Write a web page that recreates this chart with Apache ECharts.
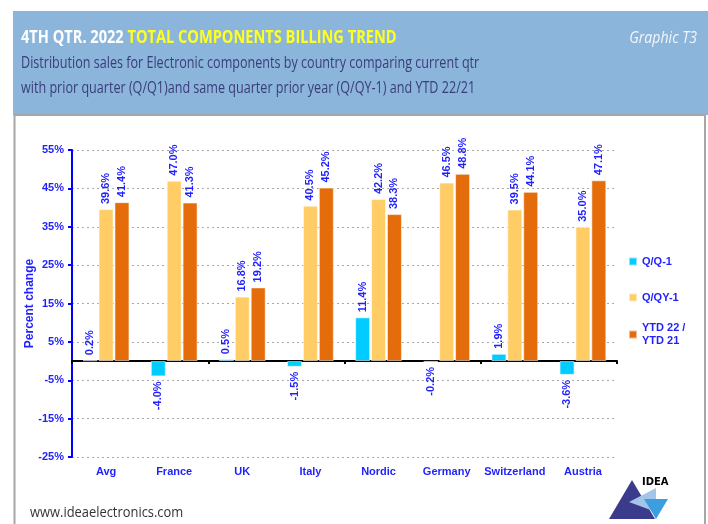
<!DOCTYPE html>
<html>
<head>
<meta charset="utf-8">
<script src="https://cdn.jsdelivr.net/npm/echarts@6/dist/echarts.min.js"></script>
<style>
  html, body { margin: 0; padding: 0; background: #ffffff; }
  #chart { width: 708px; height: 524px; }
</style>
</head>
<body>
<div id="chart"></div>
<script>
// Countries / regions along the category axis
const categories = ['Avg', 'France', 'UK', 'Italy', 'Nordic', 'Germany', 'Switzerland', 'Austria'];

// Percent change per series
const qq1   = [0.2, -4.0, 0.5, -1.5, 11.4, -0.2, 1.9, -3.6];
const qqy1  = [39.6, 47.0, 16.8, 40.5, 42.2, 46.5, 39.5, 35.0];
const ytd   = [41.4, 41.3, 19.2, 45.2, 38.3, 48.8, 44.1, 47.1];

const seriesNames = ['Q/Q-1', 'Q/QY-1', 'YTD 22 /\nYTD 21'];
const seriesColors = ['#00ccff', '#ffcc66', '#e46c0a'];

// Value axis range and step
const yMin = -25, yMax = 55, yStep = 10;

const BLUE = '#1f1fff';
const ARIAL = 'Arial, Liberation Sans, sans-serif';
const HEAD = "'Open Sans', 'Noto Sans', sans-serif";

const chart = echarts.init(document.getElementById('chart'), null, { renderer: 'canvas' });

function barData(values) {
  return values.map(v => ({
    value: v,
    label: v >= 0
      ? { position: 'top', align: 'left', distance: 5 }
      : { position: 'bottom', align: 'right', distance: 5 }
  }));
}

function makeSeries(i, values) {
  return {
    name: seriesNames[i],
    type: 'bar',
    barWidth: 15,
    barGap: '6%',
    itemStyle: { color: seriesColors[i], borderColor: 'rgba(255,255,255,0.55)', borderWidth: 1 },
    label: {
      show: true,
      rotate: 90,
      verticalAlign: 'middle',
      color: BLUE,
      fontFamily: ARIAL,
      fontWeight: 'bold',
      fontSize: 11,
      formatter: p => p.value.toFixed(1) + '%'
    },
    data: barData(values)
  };
}

function legendFor(i, top, padTop) {
  return {
    orient: 'vertical',
    left: 628,
    top: top,
    padding: 0,
    icon: 'rect',
    itemWidth: 8,
    itemHeight: 8,
    selectedMode: false,
    data: [seriesNames[i]],
    textStyle: {
      color: BLUE, fontFamily: ARIAL, fontWeight: 'bold', fontSize: 11, lineHeight: 13,
      padding: [padTop || 0, 0, 0, 0]
    }
  };
}

// condensed header text: regular face squeezed horizontally
function narrowText(x, y, text, style, sx) {
  return {
    type: 'text', x: x, y: y, scaleX: sx, originX: 0, originY: 0,
    style: Object.assign({ text: text, x: 0, y: 0, align: 'left', verticalAlign: 'middle' }, style)
  };
}

const option = {
  animation: false,
  backgroundColor: '#ffffff',
  graphic: [
    // header band
    { type: 'rect', shape: { x: 13, y: 11, width: 700, height: 104 }, style: { fill: '#8cb5db' }, z: -10 },
    // panel frame
    { type: 'rect', shape: { x: 14.5, y: 115, width: 690.5, height: 430 },
      style: { fill: 'none', stroke: '#a6a6a6', lineWidth: 2 }, z: -9 },
    narrowText(21, 38, '{a|4TH QTR. 2022 }{b|TOTAL COMPONENTS BILLING TREND}', {
      rich: {
        a: { fill: '#ffffff', font: 'bold 18px ' + HEAD },
        b: { fill: '#ffff22', font: 'bold 18px ' + HEAD }
      }
    }, 0.81),
    narrowText(21, 63, 'Distribution sales for Electronic components by country comparing current qtr',
      { fill: '#393d7a', font: '17px ' + HEAD }, 0.74),
    narrowText(21, 88, 'with prior quarter (Q/Q1)and same quarter prior year (Q/QY-1) and YTD 22/21',
      { fill: '#393d7a', font: '17px ' + HEAD }, 0.74),
    {
      type: 'text', x: 697, y: 38, scaleX: 0.83,
      style: { text: 'Graphic T3', x: 0, y: 0, align: 'right', verticalAlign: 'middle',
        fill: '#f2f6fa', font: 'italic 17px ' + HEAD }
    },
    narrowText(30, 513, 'www.ideaelectronics.com', { fill: '#333333', font: '15px ' + HEAD }, 0.86),
    // IDEA logo
    { type: 'polygon', shape: { points: [[609, 519], [632, 480], [655, 519]] }, style: { fill: '#3b3b8c' } },
    { type: 'polygon', shape: { points: [[629, 502], [656, 488], [656, 512]] }, style: { fill: '#a3c5ea' } },
    { type: 'polygon', shape: { points: [[644, 499], [668, 499], [656, 519]] }, style: { fill: '#3a9ee0' } },
    { type: 'text', left: 642, top: 477,
      style: { text: 'IDEA', fill: '#000000', font: "bold 10px 'DejaVu Sans', sans-serif" } }
  ],
  legend: [
    legendFor(0, 255),
    legendFor(1, 291),
    legendFor(2, 315, 13)
  ],
  grid: { left: 72, right: 91, top: 150, bottom: 67, containLabel: false },
  xAxis: [
    {
      type: 'category',
      data: categories,
      position: 'bottom',
      axisLine: { show: false, onZero: false },
      axisTick: { show: false },
      axisLabel: { interval: 0, color: BLUE, fontFamily: ARIAL, fontWeight: 'bold', fontSize: 11, margin: 9 },
      splitLine: { show: false }
    },
    {
      type: 'category',
      data: categories,
      position: 'top',
      axisLine: { show: true, onZero: true, lineStyle: { color: '#000000', width: 2 } },
      axisTick: { show: true, inside: true, length: 3, lineStyle: { color: '#000000', width: 2 } },
      axisLabel: { show: false },
      splitLine: { show: false }
    }
  ],
  yAxis: {
    type: 'value',
    min: yMin,
    max: yMax,
    interval: yStep,
    name: 'Percent change',
    nameLocation: 'middle',
    nameGap: 36,
    nameMoveOverlap: false,
    nameTextStyle: { color: BLUE, fontFamily: ARIAL, fontWeight: 'bold', fontSize: 12 },
    axisLine: { show: true, lineStyle: { color: '#0000ff', width: 2 } },
    axisTick: { show: true, length: 4, lineStyle: { color: '#0000ff', width: 2 } },
    axisLabel: { color: BLUE, fontFamily: ARIAL, fontWeight: 'bold', fontSize: 11, margin: 8,
      formatter: v => v + '%' },
    splitLine: { show: true, lineStyle: { color: '#a8a8a8', type: [2, 3], width: 1 } }
  },
  series: [
    makeSeries(0, qq1),
    makeSeries(1, qqy1),
    makeSeries(2, ytd)
  ]
};

chart.setOption(option);
</script>
</body>
</html>
